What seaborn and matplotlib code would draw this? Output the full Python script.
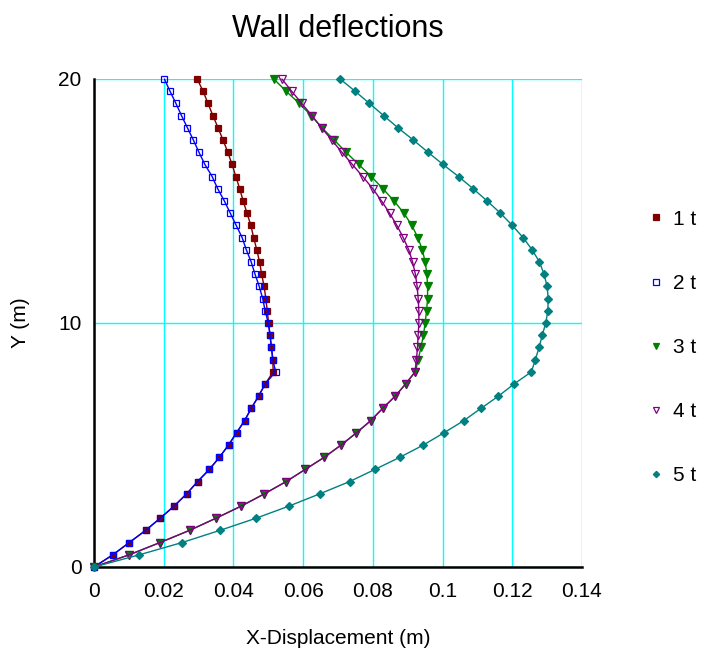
import numpy as np
import pandas as pd
import matplotlib
matplotlib.use("Agg")
import matplotlib.pyplot as plt
from matplotlib.lines import Line2D
import seaborn as sns

# ─── Data ──────────────────────────────────────────────────────────────────
depth = [i * 0.5 for i in range(41)]  # Y (m), 0 .. 20

disp_1t = [0.0, 0.0054, 0.0101, 0.0148, 0.0190, 0.0230, 0.0266, 0.0297, 0.0331,
           0.0360, 0.0386, 0.0409, 0.0432, 0.0451, 0.0472, 0.0491, 0.0514,
           0.0513, 0.0509, 0.0505, 0.0501, 0.0497, 0.0493, 0.0488, 0.0481,
           0.0475, 0.0467, 0.0458, 0.0450, 0.0439, 0.0428, 0.0418, 0.0407,
           0.0396, 0.0384, 0.0370, 0.0356, 0.0341, 0.0327, 0.0313, 0.0296]
disp_2t = [0.0, 0.0054, 0.0101, 0.0148, 0.0190, 0.0230, 0.0266, 0.0297, 0.0331,
           0.0360, 0.0386, 0.0409, 0.0432, 0.0451, 0.0472, 0.0491, 0.0521,
           0.0513, 0.0509, 0.0505, 0.0500, 0.0491, 0.0484, 0.0474, 0.0462,
           0.0451, 0.0437, 0.0425, 0.0408, 0.0391, 0.0374, 0.0355, 0.0339,
           0.0318, 0.0301, 0.0285, 0.0268, 0.0251, 0.0235, 0.0218, 0.0202]
disp_3t = [0.0, 0.0101, 0.0189, 0.0274, 0.0350, 0.0423, 0.0489, 0.0551, 0.0606,
           0.0661, 0.0709, 0.0753, 0.0794, 0.0828, 0.0864, 0.0894, 0.0922,
           0.0930, 0.0938, 0.0945, 0.0950, 0.0954, 0.0957, 0.0957, 0.0955,
           0.0950, 0.0942, 0.0929, 0.0912, 0.0889, 0.0861, 0.0829, 0.0796,
           0.0759, 0.0723, 0.0689, 0.0654, 0.0623, 0.0589, 0.0551, 0.0516]
disp_4t = [0.0, 0.0101, 0.0189, 0.0274, 0.0350, 0.0423, 0.0489, 0.0551, 0.0606,
           0.0661, 0.0709, 0.0753, 0.0794, 0.0828, 0.0864, 0.0894, 0.0921,
           0.0925, 0.0928, 0.0930, 0.0932, 0.0932, 0.0930, 0.0927, 0.0922,
           0.0914, 0.0903, 0.0887, 0.0869, 0.0848, 0.0825, 0.0800, 0.0771,
           0.0741, 0.0711, 0.0682, 0.0653, 0.0625, 0.0596, 0.0567, 0.0539]
disp_5t = [0.0, 0.0130, 0.0252, 0.0361, 0.0465, 0.0560, 0.0648, 0.0733, 0.0806,
           0.0878, 0.0945, 0.1004, 0.1061, 0.1110, 0.1160, 0.1205, 0.1255,
           0.1266, 0.1277, 0.1286, 0.1296, 0.1302, 0.1303, 0.1300, 0.1291,
           0.1278, 0.1257, 0.1231, 0.1200, 0.1166, 0.1128, 0.1088, 0.1046,
           0.1001, 0.0958, 0.0916, 0.0872, 0.0831, 0.0790, 0.0749, 0.0706]

series_labels = ['1 t', '2 t', '3 t', '4 t', '5 t']
x_ticks = [0, 0.02, 0.04, 0.06, 0.08, 0.1, 0.12, 0.14]
x_tick_labels = ['0', '0.02', '0.04', '0.06', '0.08', '0.1', '0.12', '0.14']
y_ticks = [0, 10, 20]

# ─── Style per series ──────────────────────────────────────────────────────
styles = [
    dict(color='#800000', marker='s', ms=5.0, filled=True),
    dict(color='#0000ff', marker='s', ms=5.0, filled=False),
    dict(color='#008000', marker='v', ms=5.5, filled=True),
    dict(color='#800080', marker='v', ms=5.5, filled=False),
    dict(color='#008080', marker='D', ms=3.8, filled=True),
]

sns.set_style('white')
plt.rcParams['font.family'] = ['Liberation Sans', 'DejaVu Sans']
plt.rcParams['text.color'] = 'black'
plt.rcParams['axes.labelcolor'] = 'black'

fig = plt.figure(figsize=(7.10, 6.52), dpi=100)
ax = fig.add_axes([94 / 710, 1 - 567 / 652, (582 - 94) / 710, (567 - 79) / 652])

all_disp = [disp_1t, disp_2t, disp_3t, disp_4t, disp_5t]
handles = []
for lab, disp, st in zip(series_labels, all_disp, styles):
    df = pd.DataFrame({'x': disp, 'y': depth})
    face = st['color'] if st['filled'] else 'none'
    sns.lineplot(data=df, x='x', y='y', sort=False, estimator=None, ax=ax,
                 color=st['color'], linewidth=1.0, marker=st['marker'],
                 markersize=st['ms'], markerfacecolor=face,
                 markeredgecolor=st['color'], markeredgewidth=0.9,
                 legend=False, clip_on=False, zorder=3)
    handles.append(Line2D([], [], linestyle='none', marker=st['marker'],
                          markersize=st['ms'] * 0.85, markerfacecolor=face,
                          markeredgecolor=st['color'], markeredgewidth=0.9,
                          label=lab))

ax.set_xlim(0, 0.14)
ax.set_ylim(0, 20)
ax.set_xticks(x_ticks)
ax.set_xticklabels(x_tick_labels)
ax.set_yticks(y_ticks)

ax.grid(True, color='#00ffff', linewidth=1.0)
ax.set_axisbelow(True)
for side in ['top', 'right']:
    ax.spines[side].set_visible(False)
for side in ['left', 'bottom']:
    ax.spines[side].set_color('black')
    ax.spines[side].set_linewidth(1.8)
ax.tick_params(axis='both', direction='inout', length=16, width=1.8,
               colors='black', labelsize=15)
ax.tick_params(axis='x', pad=3)
ax.tick_params(axis='y', pad=1)

ax.set_xlabel('X-Displacement (m)', fontsize=15, labelpad=20)
ax.set_ylabel('Y (m)', fontsize=15, labelpad=20)
ax.set_title('Wall deflections', fontsize=22, pad=30)

fig.legend(handles=handles, loc='center left', bbox_to_anchor=(0.904, 0.467),
           frameon=False, fontsize=15, handlelength=0.6, handletextpad=0.5,
           labelspacing=2.17, borderaxespad=0)

fig.savefig('out.png', dpi=100)
